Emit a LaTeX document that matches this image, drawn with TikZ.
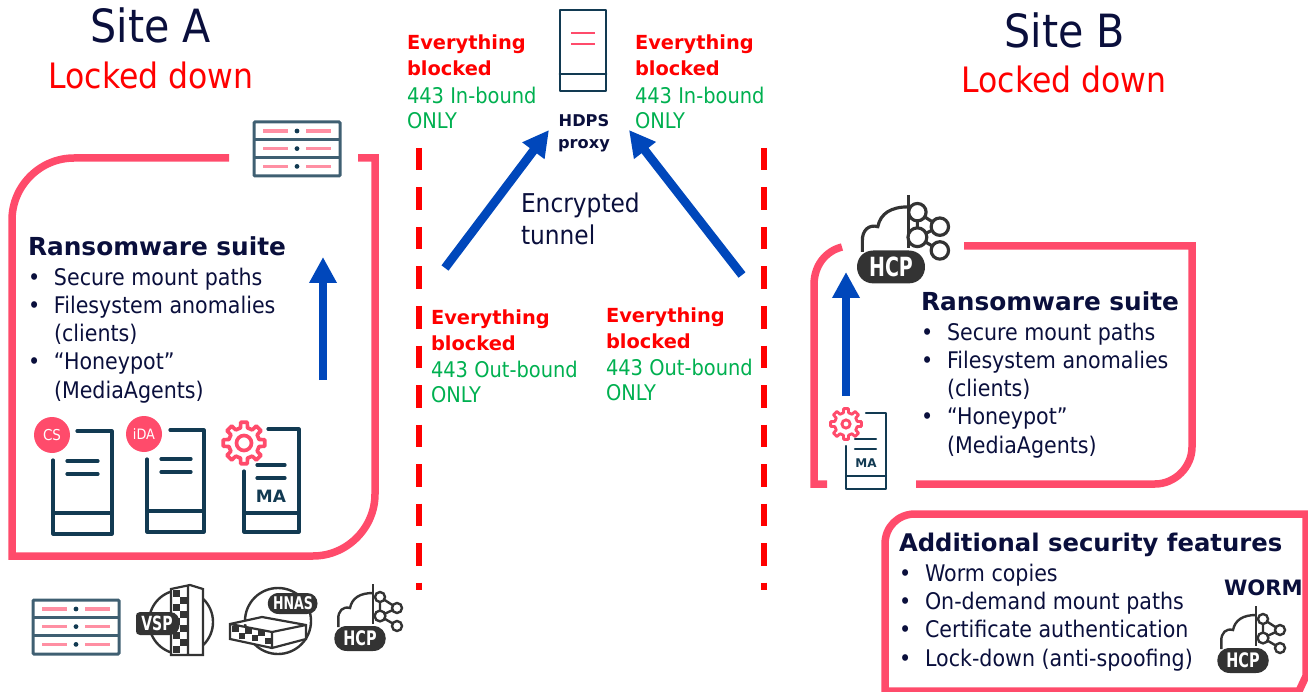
\documentclass[tikz,border=0pt]{standalone}
\usepackage{fontspec}
\setmainfont{DejaVu Sans}[FakeStretch=0.9]
\newfontfamily\bff[UprightFont={* Bold}]{DejaVu Sans}
\newfontfamily\condf[UprightFont={* Bold},FakeStretch=0.72]{DejaVu Sans}
\usetikzlibrary{arrows.meta}
\definecolor{pinkc}{HTML}{FF4B6B}
\definecolor{lpink}{HTML}{FF8FA3}
\definecolor{navyc}{HTML}{0A0F3C}
\definecolor{bluec}{HTML}{0047BB}
\definecolor{redc}{HTML}{FF0000}
\definecolor{greenc}{HTML}{00B050}
\definecolor{iconc}{HTML}{123A52}
\definecolor{rackc}{HTML}{3F5F72}
\definecolor{darkc}{HTML}{333333}
\newcommand{\fs}[2]{\fontsize{#1pt}{#2pt}\selectfont}
\newcommand{\bl}{\makebox[26pt][l]{•}}
\newcommand{\ind}{\makebox[26pt][l]{}}
\tikzset{
  x=1pt,y=-1pt,
  frame/.style={draw=pinkc,line width=7.5pt},
  flow/.style={draw=bluec,line width=8.8pt,-{Triangle[length=26pt,width=26pt]}},
  fence/.style={draw=redc,line width=6pt,dash pattern=on 22.5pt off 17pt},
  txt/.style={anchor=north west,inner sep=0pt,outer sep=0pt,align=left},
  listt/.style={txt,text=navyc,font=\fs{22.9}{28.2}},
  headt/.style={txt,text=navyc,font=\bff\fs{24.8}{28}},
  blockt/.style={txt,text=redc,font=\bff\fs{19.4}{25.5}},
  opent/.style={txt,text=greenc,font=\fs{21.6}{25.5}},
  titlet/.style={inner sep=0pt,text=navyc,font=\fs{45.8}{50}},
  lockt/.style={inner sep=0pt,text=redc,font=\fs{35}{40}},
  srv/.style={draw=iconc,line width=3.2pt,line cap=round,line join=round},
  smallsrv/.style={srv,line width=2.3pt},
  hcpline/.style={draw=darkc,line width=#1},
}
% rack: #1 x, #2 y (top left), size 88x56
\newcommand{\rack}[2]{\begin{scope}[shift={(#1,#2)}]
  \draw[draw=rackc,line width=3pt,rounded corners=1pt] (1,1) rectangle (87,55);
  \draw[draw=rackc,line width=3pt] (1,18.6) -- (87,18.6) (1,36.6) -- (87,36.6);
  \foreach \yy in {10,27.6,45.4}{
    \draw[draw=lpink,line width=3.4pt] (10,\yy) -- (35,\yy) (53,\yy) -- (78,\yy);
    \fill[iconc] (44,\yy) circle (2.4pt);}
\end{scope}}
\newcommand{\gearat}[3]{\begin{scope}[shift={(#1,#2)},scale=#3]
  \draw[draw=pinkc,fill=white,line width={3.3pt*#3+0.4pt},line join=round]
   (-13:15.5) \foreach \a in {0,45,...,315}{
     -- ({\a-13}:15.5) -- ({\a-9}:21) -- ({\a+9}:21) -- ({\a+13}:15.5) -- ({\a+32}:15.5)
   } -- cycle;
  \draw[draw=pinkc,line width={3.3pt*#3+0.4pt}] (0,0) circle ({7.5*#3 pt});
\end{scope}}
% HCP icon: unit = 68 px wide at scale 1, origin top left
\newcommand{\hcp}[4]{\begin{scope}[shift={(#1,#2)},scale=#3]
  \draw[hcpline={2.4pt*#3}]
    (3.3,43) -- (3.3,35) .. controls (3,27) and (8,22) .. (15,24) .. controls (17,14) and (25,9) .. (38,9);
  \draw[hcpline={2.4pt*#3}] (38,0) -- (38,40);
  \draw[hcpline={2.4pt*#3}] (45,13) -- (62,24) (45,32) -- (62,24) (45,32) -- (62,42) (45,13) -- (45,32);
  \foreach \xx/\yy/\rr in {45/13/5,62/24/5,45/32/5.4,62/42/5}
    \draw[hcpline={2.4pt*#3},fill=white] (\xx,\yy) circle ({\rr*#3 pt});
  \fill[darkc] (12,42) -- (38,42) .. controls (55,42) and (55,67) .. (38,67) -- (12,67) .. controls (-5,67) and (-5,42) .. (12,42) -- cycle;
  \node[inner sep=0pt,text=white,scale=#3,font=\condf\fs{20}{20}] (#4) at (25,54.5) {HCP};
\end{scope}}
\begin{document}
\begin{tikzpicture}
\useasboundingbox (0,0) rectangle (1308,692);
% Titles
\node[titlet] (siteA) at (151,25.5) {Site A};
\node[lockt] (lockA) at (151,75) {Locked down};
\node[titlet] (siteB) at (1065,30) {Site B};
\node[lockt] (lockB) at (1064,79) {Locked down};
% Frames
\draw[frame] (229,158) -- (74,158) .. controls (40,158) and (12,186) .. (12,220) -- (12,556) -- (313,556) .. controls (347,556) and (375,528) .. (375,494) -- (375,158) -- (358,158);
\draw[frame] (842,247) .. controls (826,251) and (814,265) .. (814,285) -- (814,484) -- (827,484);
\draw[frame] (916,484) -- (1155,484) .. controls (1175,484) and (1192,467) .. (1192,447) -- (1192,246) -- (964,246);
\draw[frame] (885,691) -- (885,544) .. controls (885,527) and (898,514) .. (915,514) -- (1306,514) -- (1306,676) -- (1299,691) -- cycle;
% Fences
\draw[fence] (419,148) -- (419,590);
\draw[fence] (764,148) -- (764,590);
% Racks
\rack{253}{121}
\rack{32}{599}
% Arrows within sites
\coordinate (aS) at (323,380); \coordinate (aE) at (323,257);
\coordinate (bS) at (846,396); \coordinate (bE) at (846,272);
\draw[flow] (aS) -- (aE);
\draw[flow] (bS) -- (bE);
% Proxy
\draw[srv,line width=2.8pt] (560,10) rectangle (606,91) (560,74) -- (606,74);
\draw[draw=pinkc,line width=2.4pt] (571,33) -- (595,33) (571,44) -- (595,44);
\node[inner sep=0pt,align=center,text=navyc,font=\bff\fs{16.2}{22}] (proxy) at (584,133) {HDPS\\proxy};
\coordinate (tl) at (445,268); \coordinate (tlE) at (549,130);
\coordinate (tr) at (742,275); \coordinate (trE) at (629,130);
\draw[flow] (tl) -- (tlE);
\draw[flow] (tr) -- (trE);
\node[txt,text=navyc,font=\fs{25.9}{32}] (tun) at (521,193) {Encrypted\\tunnel};
% Blocked labels
\node[blockt] (b1) at (407,35) {Everything\\blocked};
\node[opent] (o1) at (407,87) {443 In-bound\\ONLY};
\node[blockt] (b2) at (635,35) {Everything\\blocked};
\node[opent] (o2) at (635,87) {443 In-bound\\ONLY};
\node[blockt] (b3) at (431,310) {Everything\\blocked};
\node[opent] (o3) at (431,361) {443 Out-bound\\ONLY};
\node[blockt] (b4) at (606,308) {Everything\\blocked};
\node[opent] (o4) at (606,359) {443 Out-bound\\ONLY};
% Suite A
\node[headt] (hA) at (28,237) {Ransomware suite};
\node[listt] (lA) at (28,268) {\bl Secure mount paths\\\bl Filesystem anomalies\\\ind (clients)\\\bl “Honeypot”\\\ind (MediaAgents)};
% Suite B
\node[headt] (hB) at (921,292) {Ransomware suite};
\node[listt] (lB) at (921,323) {\bl Secure mount paths\\\bl Filesystem anomalies\\\ind (clients)\\\bl “Honeypot”\\\ind (MediaAgents)};
% Additional
\node[headt,font=\bff\fs{24.3}{28}] (hC) at (899,533) {Additional security features};
\node[listt] (lC) at (899,564) {\bl Worm copies\\\bl On-demand mount paths\\\bl Certificate authentication\\\bl Lock-down (anti-spoofing)};
\node[txt,text=navyc,font=\bff\fs{21.2}{26}] (worm) at (1224,580) {WORM};
\hcp{1218}{606}{1}{hcpC}
% CS server
\draw[srv] (77,431) -- (112,431) -- (112,534) -- (53,534) -- (53,460) (53,513) -- (112,513);
\draw[srv] (67,461) -- (98,461) (67,474) -- (98,474);
\fill[pinkc] (52,435) circle (18pt);
\node[inner sep=0pt,text=white,font=\fs{15}{15}] (cs) at (52,435) {CS};
% iDA server
\draw[srv] (170,430) -- (204,430) -- (204,532) -- (147,532) -- (147,459) (147,511) -- (204,511);
\draw[srv] (161,459) -- (191,459) (161,472) -- (191,472);
\fill[pinkc] (144,434) circle (18pt);
\node[inner sep=0pt,text=white,font=\fs{14.3}{15}] (ida) at (144,434) {iDA};
% MA server
\draw[srv] (268,429) -- (299,429) -- (299,532) -- (244,532) -- (244,471) (244,513) -- (299,513);
\draw[srv] (257,465) -- (285,465) (257,478) -- (285,478);
\node[inner sep=0pt,text=iconc,font=\bff\fs{17}{17}] (ma) at (271,496) {MA};
\gearat{244}{443}{1}
% MA server B
\draw[smallsrv] (866,413) -- (886,413) -- (886,489) -- (846,489) -- (846,446) (846,476) -- (886,476);
\draw[smallsrv] (855,439) -- (876,439) (855,449) -- (876,449);
\node[inner sep=0pt,text=iconc,font=\bff\fs{12}{12}] (ma2) at (866,463) {MA};
\gearat{846}{424}{0.74}
% HCP icons
\hcp{335}{584}{1}{hcpA}
\hcp{858}{195}{1.32}{hcpB}
% VSP
\draw[draw=darkc,line width=2.4pt] (181,622) circle (32pt);
\fill[white] (171,584) rectangle (203,658);
\draw[draw=darkc,line width=2.2pt,fill=white] (171,589) -- (190,585) -- (203,589) -- (203,655) -- (171,655) -- cycle (188,586) -- (188,655);
\foreach \i in {0,...,8}{\foreach \j in {0,1}{
  \pgfmathtruncatemacro{\k}{mod(\i+\j,2)}
  \ifnum\k=0 \fill[darkc] ({173+\j*7},{590+\i*7}) rectangle ({180+\j*7},{597+\i*7}); \fi}}
\fill[darkc] (140,612) -- (170,612) .. controls (183,612) and (183,635) .. (170,635) -- (140,635) .. controls (137,635) and (136,633) .. (136,631) -- (136,616) .. controls (136,614) and (137,612) .. (140,612) -- cycle;
\node[inner sep=0pt,text=white,font=\condf\fs{19.5}{20}] (vsp) at (157,623.5) {VSP};
% HNAS
\draw[draw=darkc,line width=2.4pt] (278,621) circle (33pt);
\draw[draw=darkc,line width=2.2pt,fill=white] (230,624) -- (262,617) -- (306,625) -- (306,639) -- (272,648) -- (230,639) -- cycle (230,624) -- (272,632) -- (306,625) (272,632) -- (272,648);
\foreach \i in {0,...,5}{\foreach \j in {0,1}{
  \pgfmathtruncatemacro{\k}{mod(\i+\j,2)}
  \ifnum\k=0 \fill[darkc] ({232+\i*6.5},{626+\i*1.1+\j*6}) rectangle ({238.5+\i*6.5},{632+\i*1.1+\j*6}); \fi}}
\fill[darkc] (279,593) -- (307,593) .. controls (321,593) and (321,614) .. (307,614) -- (279,614) .. controls (264,614) and (264,593) .. (279,593) -- cycle;
\node[inner sep=0pt,text=white,font=\condf\fs{17.5}{18}] (hnas) at (293,603.5) {HNAS};
\end{tikzpicture}
\end{document}
